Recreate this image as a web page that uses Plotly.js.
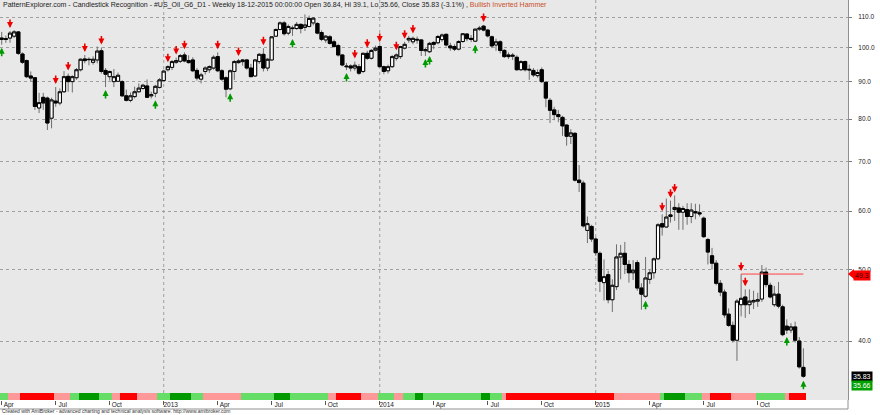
<!DOCTYPE html>
<html><head><meta charset="utf-8">
<script src="https://cdn.plot.ly/plotly-3.0.1.min.js"></script>
<style>html,body{margin:0;padding:0;background:#fff}#chart{width:880px;height:415px}</style>
</head><body><div id="chart"></div>
<script>
const weekDates = [
'2012-04-06','2012-04-13','2012-04-20','2012-04-27','2012-05-04','2012-05-11','2012-05-18','2012-05-25','2012-06-01','2012-06-08','2012-06-15','2012-06-22','2012-06-29','2012-07-06','2012-07-13','2012-07-20','2012-07-27','2012-08-03','2012-08-10','2012-08-17','2012-08-24','2012-08-31','2012-09-07','2012-09-14','2012-09-21','2012-09-28','2012-10-05','2012-10-12','2012-10-19','2012-10-26','2012-11-02','2012-11-09','2012-11-16','2012-11-23','2012-11-30','2012-12-07','2012-12-14','2012-12-21','2012-12-28',
'2013-01-04','2013-01-11','2013-01-18','2013-01-25','2013-02-01','2013-02-08','2013-02-15','2013-02-22','2013-03-01','2013-03-08','2013-03-15','2013-03-22','2013-03-29','2013-04-05','2013-04-12','2013-04-19','2013-04-26','2013-05-03','2013-05-10','2013-05-17','2013-05-24','2013-05-31','2013-06-07','2013-06-14','2013-06-21','2013-06-28','2013-07-05','2013-07-12','2013-07-19','2013-07-26','2013-08-02','2013-08-09','2013-08-16','2013-08-23','2013-08-30','2013-09-06','2013-09-13','2013-09-20','2013-09-27','2013-10-04','2013-10-11','2013-10-18','2013-10-25','2013-11-01','2013-11-08','2013-11-15','2013-11-22','2013-11-29','2013-12-06','2013-12-13','2013-12-20','2013-12-27',
'2014-01-03','2014-01-10','2014-01-17','2014-01-24','2014-01-31','2014-02-07','2014-02-14','2014-02-21','2014-02-28','2014-03-07','2014-03-14','2014-03-21','2014-03-28','2014-04-04','2014-04-11','2014-04-18','2014-04-25','2014-05-02','2014-05-09','2014-05-16','2014-05-23','2014-05-30','2014-06-06','2014-06-13','2014-06-20','2014-06-27','2014-07-04','2014-07-11','2014-07-18','2014-07-25','2014-08-01','2014-08-08','2014-08-15','2014-08-22','2014-08-29','2014-09-05','2014-09-12','2014-09-19','2014-09-26','2014-10-03','2014-10-10','2014-10-17','2014-10-24','2014-10-31','2014-11-07','2014-11-14','2014-11-21','2014-11-28','2014-12-05','2014-12-12','2014-12-19','2014-12-26',
'2015-01-02','2015-01-09','2015-01-16','2015-01-23','2015-01-30','2015-02-06','2015-02-13','2015-02-20','2015-02-27','2015-03-06','2015-03-13','2015-03-20','2015-03-27','2015-04-03','2015-04-10','2015-04-17','2015-04-24','2015-05-01','2015-05-08','2015-05-15','2015-05-22','2015-05-29','2015-06-05','2015-06-12','2015-06-19','2015-06-26','2015-07-03','2015-07-10','2015-07-17','2015-07-24','2015-07-31','2015-08-07','2015-08-14','2015-08-21','2015-08-28','2015-09-04','2015-09-11','2015-09-18','2015-09-25','2015-10-02','2015-10-09','2015-10-16','2015-10-23','2015-10-30','2015-11-06','2015-11-13','2015-11-20','2015-11-27','2015-12-04','2015-12-11','2015-12-18'];

const openP = [
103.0,102.8,103.0,103.6,105.0,98.0,96.0,91.5,91.0,82.8,85.6,85.4,80.2,84.6,84.1,87.1,91.4,89.9,91.0,93.3,96.5,96.4,95.5,96.2,99.0,93.1,91.3,89.9,90.0,89.9,86.0,84.8,85.8,87.1,88.0,88.7,86.0,86.7,88.3,
90.2,93.3,94.0,95.5,95.8,97.7,96.0,96.2,93.1,90.6,92.8,93.3,93.8,97.2,93.0,91.0,87.9,92.8,95.4,95.7,96.2,93.8,91.5,95.7,97.9,93.8,96.2,103.6,105.8,108.0,104.6,106.3,106.1,107.5,106.5,106.8,108.0,107.8,104.8,102.4,103.4,101.8,100.6,97.7,94.4,94.4,93.8,94.2,92.8,98.2,96.7,99.2,
100.3,94.2,93.0,94.2,96.7,97.2,99.8,102.4,101.8,102.6,102.4,99.0,98.7,101.6,101.5,102.5,104.2,100.5,100.3,99.5,101.9,104.3,102.9,102.0,105.9,106.9,105.6,103.4,100.8,101.8,99.1,97.7,97.3,97.0,93.3,95.7,93.2,93.1,91.6,93.3,89.7,84.8,82.3,81.1,80.4,78.5,75.8,76.5,66.1,65.5,56.5,57.2,
55.0,52.6,48.0,49.2,45.5,47.4,52.0,52.6,50.8,49.5,51.1,47.2,46.0,48.5,49.5,51.7,57.7,57.1,59.0,60.3,60.6,59.8,60.3,59.0,59.9,59.7,58.7,54.9,52.2,51.0,47.9,46.6,43.5,42.0,40.1,44.8,45.9,44.8,45.2,45.3,45.6,49.6,47.6,44.8,46.3,44.5,41.9,41.4,41.8,40.0,36.84];
const highP = [
105.0,103.8,105.3,105.6,105.3,98.5,96.3,92.8,91.2,86.8,86.8,85.8,85.5,88.4,88.0,92.9,92.2,91.7,93.8,96.7,97.7,97.0,97.3,100.3,100.0,93.8,93.0,93.5,92.5,90.3,87.7,86.9,88.5,89.4,89.3,90.5,87.1,89.0,90.9,
93.3,94.6,96.2,96.9,98.0,98.5,97.6,97.0,93.8,92.4,94.3,94.6,97.6,98.5,93.5,91.4,93.4,96.2,96.5,96.4,96.5,95.0,96.5,98.3,99.8,96.8,103.6,106.1,108.5,108.6,107.5,107.1,108.3,107.8,110.9,110.5,110.0,108.2,105.5,104.0,104.0,102.5,101.2,98.0,95.3,94.9,95.7,95.0,98.5,99.0,99.5,100.6,
100.8,94.5,94.8,97.7,98.2,100.5,101.8,103.7,103.5,103.5,102.6,100.0,101.8,102.0,104.0,104.5,104.5,101.5,101.0,102.3,104.6,104.6,104.0,106.0,107.0,107.3,106.0,103.8,102.8,102.3,99.5,98.5,98.3,97.6,96.1,96.0,94.8,93.8,93.4,94.0,90.0,85.4,83.1,82.3,80.8,78.6,77.5,76.8,69.3,66.0,59.0,57.5,
55.3,52.9,51.6,49.8,48.5,54.1,54.0,54.5,51.5,51.5,51.5,47.9,52.0,50.0,51.9,57.8,59.4,62.4,62.0,63.0,61.5,61.0,61.5,61.5,61.4,61.3,59.0,55.2,53.5,51.5,48.4,47.0,44.3,42.5,45.6,49.3,47.0,47.0,46.8,46.5,50.7,50.3,48.0,47.5,48.1,44.8,42.8,42.3,42.5,40.5,39.1];
const lowP = [
100.9,101.5,101.5,103.0,97.7,95.0,90.9,89.9,82.3,81.5,82.3,77.3,77.7,83.1,83.5,86.8,87.1,86.9,90.4,92.8,95.2,94.6,94.8,95.2,92.2,88.4,90.2,88.4,89.9,85.7,84.5,84.3,85.3,86.8,87.7,85.4,85.3,85.6,88.0,
89.9,92.8,93.2,95.0,95.3,95.5,95.1,92.6,90.2,89.4,91.9,92.4,93.3,92.6,90.1,85.6,87.5,90.4,95.1,94.5,93.3,91.2,91.2,95.0,92.8,92.9,96.0,103.4,105.5,103.8,103.9,103.7,105.7,104.5,105.3,106.5,107.2,104.2,102.0,101.5,100.9,100.0,97.2,94.3,93.2,92.8,93.0,91.8,92.3,96.2,96.3,98.8,
93.9,92.0,92.2,93.8,96.0,96.5,99.4,101.5,101.0,101.2,97.4,97.4,98.3,99.5,101.0,101.8,100.3,99.0,98.9,99.1,101.5,102.0,101.7,101.8,105.3,105.2,103.2,99.8,99.0,98.2,96.8,96.5,96.2,93.0,93.0,92.8,90.4,91.2,91.0,89.5,83.0,79.0,79.7,79.2,75.9,73.6,74.0,65.8,63.7,57.0,54.3,54.5,
52.2,46.6,45.4,45.0,43.8,46.9,48.5,49.3,48.0,48.4,46.8,44.1,45.8,47.8,48.6,51.5,55.6,57.0,57.9,58.2,56.6,56.6,57.5,57.8,58.5,59.0,55.2,50.8,50.0,47.6,46.0,43.0,41.8,39.8,37.6,43.2,43.0,43.5,44.2,44.5,45.2,47.3,45.7,44.5,44.3,40.6,40.9,41.0,39.8,36.7,35.66];
const closeP = [
102.6,102.6,104.6,105.0,98.2,95.5,91.3,90.9,83.2,84.2,84.1,79.0,84.9,84.1,87.1,91.3,89.9,91.3,93.3,96.4,96.0,96.3,96.4,98.9,92.8,92.0,92.8,91.3,91.7,86.0,84.8,86.0,87.1,88.1,88.9,85.6,86.3,88.6,90.4,
92.9,94.2,95.7,96.0,97.5,95.9,95.4,93.0,90.9,91.8,93.8,94.2,97.0,93.0,90.6,87.8,93.0,95.7,95.9,96.2,93.8,91.3,96.2,97.9,93.8,96.4,103.4,105.8,108.0,104.4,106.8,106.1,107.5,106.1,107.3,109.5,109.6,104.6,102.6,103.6,101.3,100.3,97.7,94.7,94.2,93.8,94.6,92.3,98.2,96.7,99.1,99.8,
94.2,92.8,94.2,97.2,97.7,100.3,101.0,102.9,102.9,102.4,99.1,99.3,101.3,101.0,103.5,104.0,100.8,99.9,99.5,101.9,104.4,102.8,102.6,105.9,106.2,105.6,103.7,100.5,101.8,99.1,97.2,97.2,97.6,93.3,95.7,93.3,93.4,91.8,92.5,89.9,85.4,82.2,81.1,80.6,78.3,75.8,76.6,66.1,65.6,57.3,57.7,55.0,
52.7,48.2,48.9,45.5,47.6,52.0,52.6,50.8,49.5,49.9,47.2,46.3,48.7,49.5,51.7,57.5,57.1,58.9,59.3,60.7,59.8,60.5,59.0,60.2,59.7,59.5,55.4,52.8,51.0,47.9,46.6,43.4,42.0,40.1,45.3,45.7,44.8,45.3,45.4,45.5,49.6,47.7,45.9,46.3,44.6,40.8,41.4,41.8,40.1,36.9,35.83];

// bars carrying a bearish (red, above) or bullish (green, below) pattern signal
const bearishSignals = [2,13,16,20,24,40,42,44,52,57,63,85,88,91,95,97,99,116,159,161,162,178,179];
const bullishSignals = [0,25,37,55,70,83,102,103,114,155,189,193];

// bottom trend strip: [first bar index, state]
const stripSegments = [[0,'lg'],[2,'pk'],[5,'rd'],[13,'pk'],[17,'lg'],[19,'dg'],[24,'lg'],[27,'pk'],[29,'rd'],[33,'pk'],[38,'lg'],[41,'dg'],[46,'lg'],[49,'pk'],[58,'lg'],[66,'dg'],[70,'lg'],[79,'pk'],[81,'rd'],[87,'pk'],[91,'lg'],[95,'pk'],[97,'lg'],[100,'dg'],[102,'lg'],[116,'dg'],[118,'lg'],[121,'pk'],[122,'rd'],[148,'pk'],[159,'lg'],[160,'dg'],[165,'lg'],[169,'pk'],[171,'rd'],[176,'pk'],[182,'lg'],[189,'pk'],[190,'rd']];
const stateColors = {lg:'#66dd66', dg:'#009900', pk:'#ff9999', rd:'#ff0000'};

const priceTicks = [40,50,60,70,80,90,100,110];
const monthTicks = ['2012-04-06','2012-07-06','2012-10-05','2013-01-04','2013-04-05','2013-07-05','2013-10-04','2014-01-03','2014-04-04','2014-07-04','2014-10-03','2015-01-02','2015-04-03','2015-07-03','2015-10-02'];
const monthTickLabels = ['Apr','Jul','Oct','2013','Apr','Jul','Oct','2014','Apr','Jul','Oct','2015','Apr','Jul','Oct'];
const yearStarts = ['2013-01-04','2014-01-03','2015-01-02'];
const resistanceLevel = 49.3;
const resistanceFromBar = 178;
const patternName = 'Bullish Inverted Hammer';
const symbolName = '#US_Oil_G6_D1';
const lastDateLabel = '18-12-2015 00:00:00';
const prevClose = 36.98;

// ---------- build ----------
const n = weekDates.length;
const last = n - 1;
const FONT = 'Liberation Sans, Arial, sans-serif';
const yRange = [1.522071, 2.064444];
const plotH = 400;

const stripColors = [];
for (let i = 0; i < n; i++) {
  let st = stripSegments[0][1];
  for (const [s, v] of stripSegments) if (i >= s) st = v;
  stripColors.push(stateColors[st]);
}
const bodyHigh = openP.map((o, i) => Math.max(o, closeP[i]));
const bodyLow = openP.map((o, i) => Math.min(o, closeP[i]));

const traces = [
  { type:'candlestick', x:weekDates, open:openP, high:highP, low:lowP, close:closeP,
    increasing:{line:{color:'#6e6e6e', width:1}, fillcolor:'#6e6e6e'},
    decreasing:{line:{color:'#6e6e6e', width:1}, fillcolor:'#6e6e6e'},
    whiskerwidth:0, hoverinfo:'skip', showlegend:false },
  { type:'candlestick', x:weekDates, open:openP, high:bodyHigh, low:bodyLow, close:closeP,
    increasing:{line:{color:'#000000', width:1}, fillcolor:'#ffffff'},
    decreasing:{line:{color:'#000000', width:1}, fillcolor:'#000000'},
    whiskerwidth:0, hoverinfo:'skip', showlegend:false },
  { type:'scatter', mode:'lines', x:[weekDates[resistanceFromBar], weekDates[last]], y:[resistanceLevel, resistanceLevel],
    line:{color:'#ff4040', width:1}, hoverinfo:'skip', showlegend:false },
  { type:'bar', x:weekDates, y:weekDates.map(() => 7/plotH), base:0, yaxis:'y2',
    width:7*24*3600*1000, marker:{color:stripColors, line:{width:0}}, hoverinfo:'skip', showlegend:false }
];

const annotations = [];
bearishSignals.forEach(i => annotations.push({
  x: weekDates[i], y: Math.log10(highP[i]), xref:'x', yref:'y', text:'', showarrow:true,
  arrowhead:2, arrowsize:0.75, arrowwidth:1.6, arrowcolor:'#ee0000', ax:0, ay:-10, yshift:3, standoff:0
}));
bullishSignals.forEach(i => annotations.push({
  x: weekDates[i], y: Math.log10(lowP[i]), xref:'x', yref:'y', text:'', showarrow:true,
  arrowhead:2, arrowsize:0.75, arrowwidth:1.6, arrowcolor:'#009900', ax:0, ay:10, yshift:-3, standoff:0
}));

const pct = ((closeP[last] - prevClose) / prevClose * 100).toFixed(1);
annotations.push({
  xref:'paper', yref:'paper', x:0, y:1, xanchor:'left', yanchor:'top', xshift:1, yshift:1, showarrow:false, align:'left',
  text: 'PatternExplorer.com - Candlestick Recognition - ' + symbolName + ' - Weekly ' + lastDateLabel +
        ' Open ' + openP[last] + ', Hi ' + highP[last] + ', Lo ' + lowP[last] + ', Close ' + closeP[last] +
        ' (' + pct + '%) , <span style="color:#c8502a">' + patternName + '</span>',
  font:{family:FONT, size:7, color:'#222222'}
});
annotations.push({
  xref:'paper', yref:'paper', x:0, y:-15/plotH, xanchor:'left', yanchor:'bottom', xshift:1, showarrow:false,
  borderpad:0,
  text:'Created with AmiBroker - advanced charting and technical analysis software. http://www.amibroker.com',
  font:{family:FONT, size:5, color:'#333333'}
});
// right-axis value labels
annotations.push({ xref:'paper', yref:'y', x:1, y:Math.log10(resistanceLevel), xanchor:'left', yanchor:'middle', xshift:5, yshift:-1,
  showarrow:false, text:resistanceLevel.toFixed(1), bgcolor:'#ff0000', borderpad:1, font:{family:FONT, size:7, color:'#300000'} });
annotations.push({ xref:'paper', yref:'y', x:1, y:Math.log10(closeP[last]), xanchor:'left', yanchor:'middle', xshift:3,
  showarrow:false, text:closeP[last].toFixed(2), bgcolor:'#000000', borderpad:1, font:{family:FONT, size:7, color:'#ffffff'} });
annotations.push({ xref:'paper', yref:'y', x:1, y:Math.log10(lowP[last]), xanchor:'left', yanchor:'middle', xshift:3, yshift:-8,
  showarrow:false, text:lowP[last].toFixed(2), bgcolor:'#00a000', borderpad:1, font:{family:FONT, size:7, color:'#ffffff'} });

const resFrac = (Math.log10(resistanceLevel) - yRange[0]) / (yRange[1] - yRange[0]);
const shapes = [];
yearStarts.forEach(d => shapes.push({ type:'line', xref:'x', yref:'paper', x0:d, x1:d, y0:7/plotH, y1:1,
  line:{color:'#a0a0a0', width:1, dash:'dot'}, layer:'below' }));
shapes.push({ type:'path', xref:'paper', yref:'paper',
  path:'M 1 ' + resFrac + ' L ' + (1 + 6/848) + ' ' + (resFrac + 5/plotH) + ' L ' + (1 + 6/848) + ' ' + (resFrac - 5/plotH) + ' Z',
  fillcolor:'#ff0000', line:{width:0} });
shapes.push({ type:'line', xref:'paper', yref:'paper', x0:0, x1:1, y0:-9/plotH, y1:-9/plotH, line:{color:'#909090', width:1} });
shapes.push({ type:'line', xref:'paper', yref:'paper', x0:1, x1:1, y0:-9/plotH, y1:0, line:{color:'#909090', width:1} });

const layout = {
  width:880, height:415,
  margin:{l:0, r:32, t:0, b:15, pad:0},
  paper_bgcolor:'#ffffff', plot_bgcolor:'#e8e8e8',
  showlegend:false, hovermode:false,
  boxgap:0.15, boxgroupgap:0.1,
  bargap:0,
  xaxis:{ type:'date', range:['2012-04-03 03:00','2016-03-02 03:00'], tickvals:monthTicks, ticktext:monthTickLabels,
    ticks:'outside', ticklen:4, tickcolor:'#555555', tickfont:{family:FONT, size:6.5, color:'#222222'},
    ticklabelshift:7, ticklabelstandoff:-6, showgrid:false, zeroline:false, showline:false,
    rangeslider:{visible:false}, fixedrange:true },
  yaxis:{ type:'log', side:'right', range:yRange, tickvals:priceTicks, tickformat:'.1f',
    ticks:'outside', ticklen:3, tickcolor:'#777777', showline:true, linecolor:'#909090', linewidth:1,
    showgrid:true, gridcolor:'#a0a0a0', griddash:'dot', gridwidth:1, zeroline:false,
    tickfont:{family:FONT, size:6.5, color:'#222222'}, ticklabelstandoff:5, fixedrange:true },
  yaxis2:{ overlaying:'y', range:[0,1], visible:false, fixedrange:true },
  annotations:annotations, shapes:shapes
};

Plotly.newPlot('chart', traces, layout, {staticPlot:true, displayModeBar:false});
</script>
</body></html>
